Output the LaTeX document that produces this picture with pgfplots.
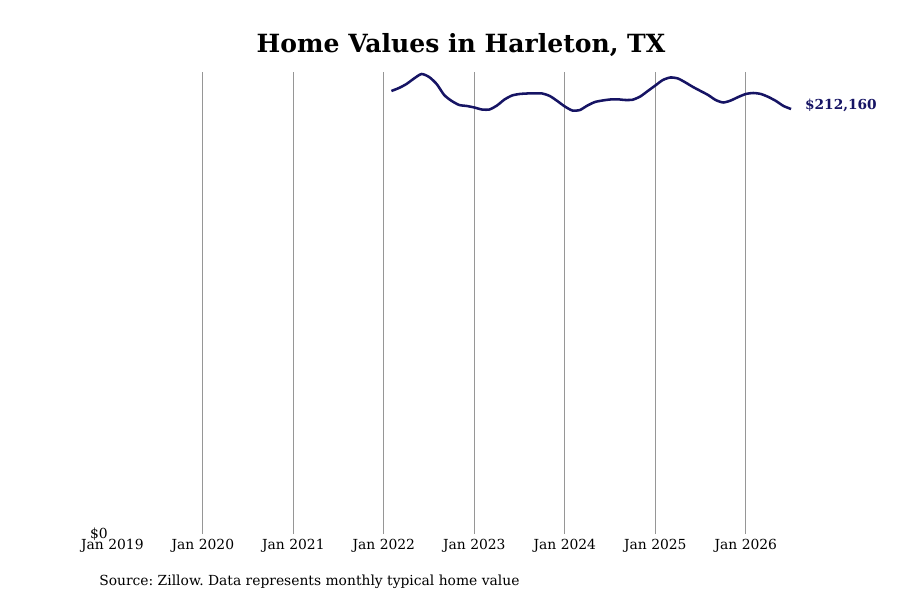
\documentclass[border=0pt]{standalone}
\usepackage{fontspec}
\setmainfont{DejaVu Serif}
\usepackage{pgfplots}
\pgfplotsset{compat=1.18}
\definecolor{lineblue}{RGB}{22,20,100}
\definecolor{gridgray}{RGB}{150,150,150}
\frenchspacing

\begin{document}
\begin{tikzpicture}
\path[use as bounding box] (0,0) rectangle (675pt,450pt);
\begin{axis}[
  at={(84.3pt,49.5pt)}, anchor=south west,
  scale only axis, width=509pt, height=346.5pt,
  xmin=0, xmax=7.5, ymin=0, ymax=230630,
  axis line style={draw=none},
  clip=false,
  scaled y ticks=false,
  xtick={1,...,7},
  xticklabels={Jan 2020,Jan 2021,Jan 2022,Jan 2023,Jan 2024,Jan 2025,Jan 2026},
  extra x ticks={0},
  extra x tick labels={Jan 2019},
  extra x tick style={grid=none},
  ytick={0}, yticklabels={\$0},
  major tick length=0pt,
  xmajorgrids=true,
  grid style={gridgray, line width=0.75pt},
  tick label style={font=\fontsize{10.4}{12}\selectfont},
  /pgf/number format/assume math mode=true,
]
\addplot[lineblue, line width=1.9pt, smooth, tension=0.4] table[x expr=\thisrow{m}/12, y=v] {
m v
37 221146
38 222643
39 224640
40 227386
41 229632
42 228134
43 224640
44 219149
45 216154
46 214157
47 213658
48 212909
49 211910
50 211910
51 213907
52 216902
53 218899
54 219648
55 219898
56 219997
57 219898
58 218650
59 216154
60 213408
61 211411
62 211661
63 213907
64 215654
65 216403
66 216902
67 217002
68 216653
69 216803
70 218400
71 221146
72 223891
73 226637
74 227885
75 227386
76 225389
77 223142
78 221146
79 219149
80 216653
81 215405
82 216403
83 218150
84 219648
85 220147
86 219648
87 218150
88 216154
89 213658
90 212160
};
\node[anchor=west, xshift=7pt, yshift=3pt, text=lineblue, font=\fontsize{10.3}{12}\selectfont\bfseries]
  at (axis cs:7.5,212160) {\$212,160};
\end{axis}
\node[font=\fontsize{18.8}{22}\selectfont\bfseries] at (345.75pt,416pt) {Home Values in Harleton, TX};
\node[anchor=west, inner sep=0pt, font=\fontsize{10.4}{12}\selectfont] at (74.25pt,13.5pt) {Source: Zillow. Data represents monthly typical home value};
\end{tikzpicture}
\end{document}
